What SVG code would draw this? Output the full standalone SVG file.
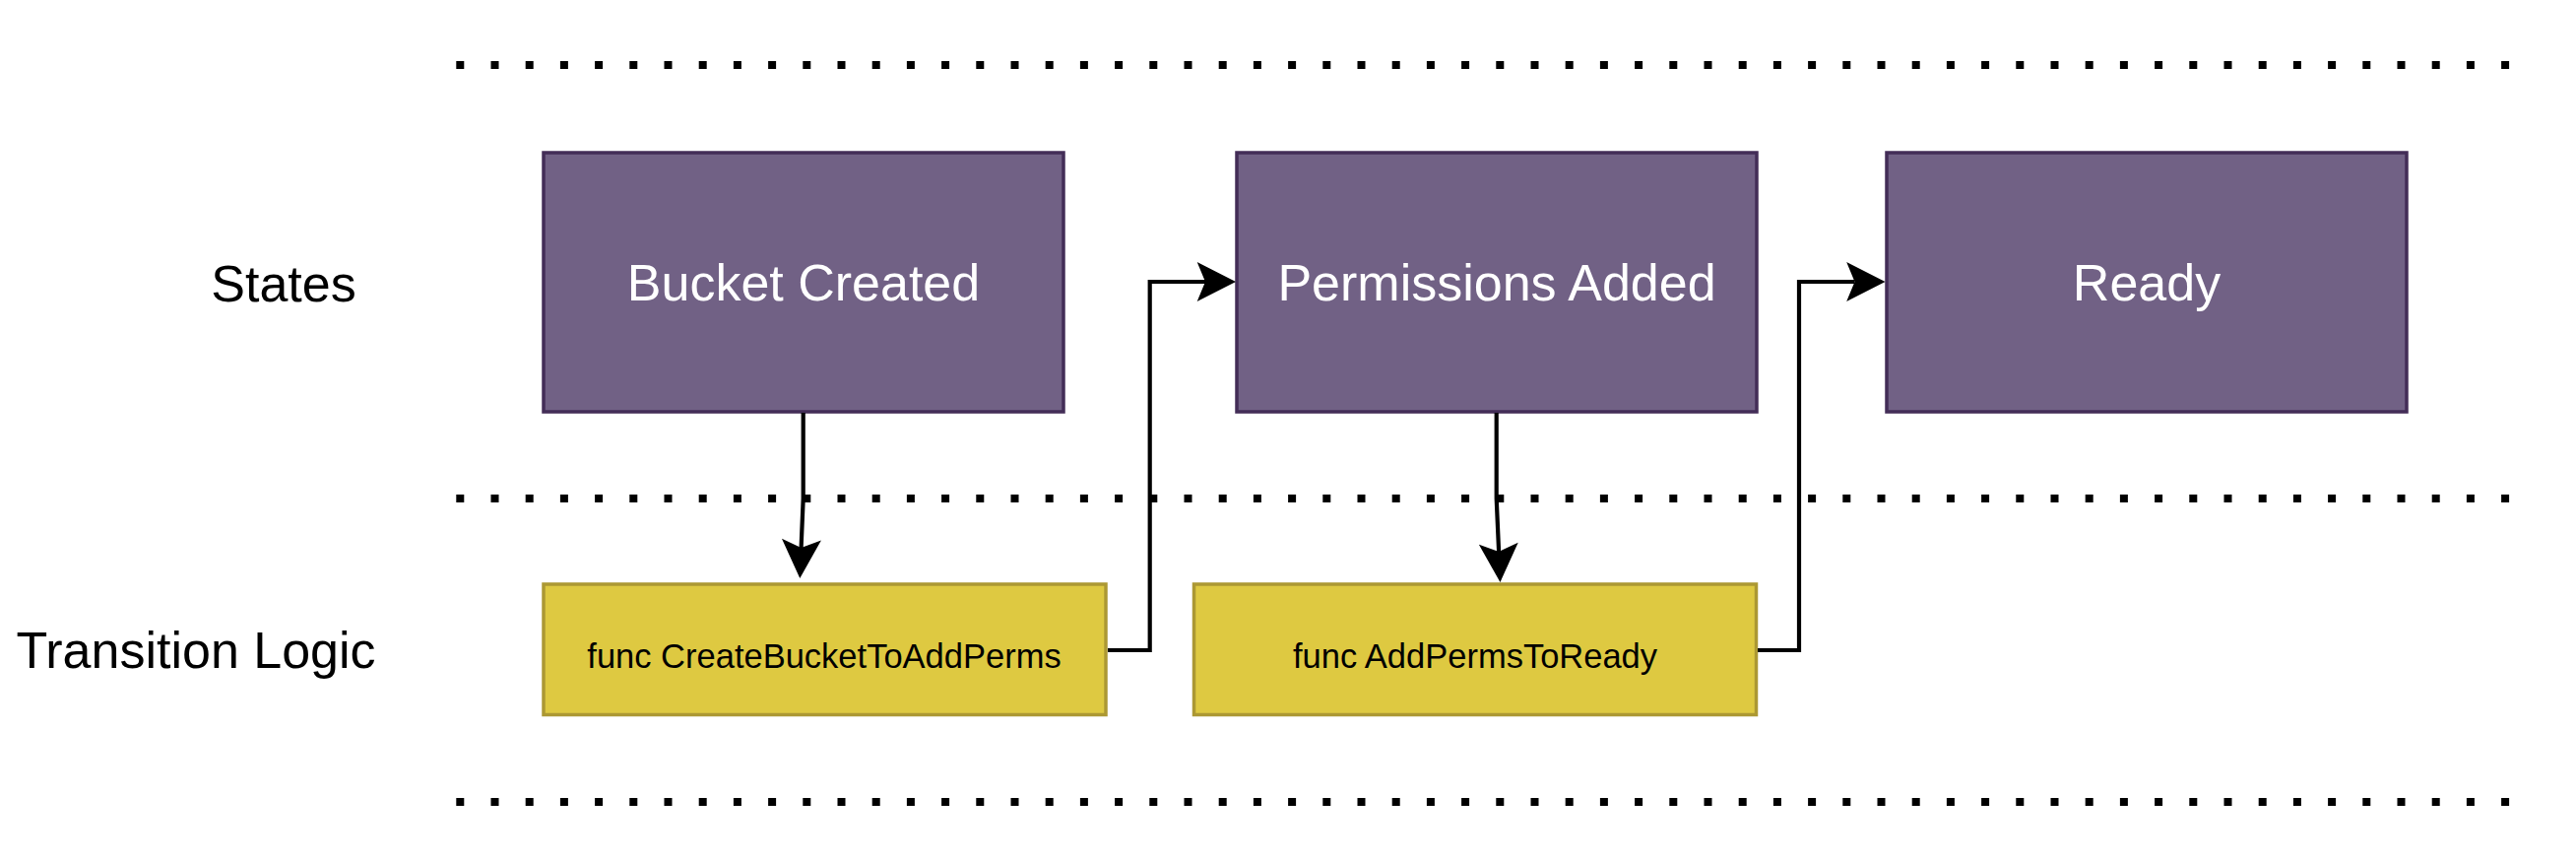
<svg xmlns="http://www.w3.org/2000/svg" width="2616" height="876" viewBox="0 0 2616 876">
<style>
.state{fill:#716185;stroke:#432D57;stroke-width:3.5}
.func{fill:#DEC941;stroke:#AC9833;stroke-width:3.5}
.st{font-family:"Liberation Sans",Arial,sans-serif;font-size:52px;fill:#ffffff;text-anchor:middle}
.ft{font-family:"Liberation Sans",Arial,sans-serif;font-size:34.5px;fill:#000000;text-anchor:middle}
.lbl{font-family:"Liberation Sans",Arial,sans-serif;font-size:52px;fill:#000000;text-anchor:middle}
.sep{stroke:#000;stroke-width:8;stroke-dasharray:8 27.2;fill:none}
.edge{fill:none;stroke:#000;stroke-width:4.2;stroke-linejoin:miter}
</style>
<defs>
<marker id="arr" markerUnits="userSpaceOnUse" viewBox="0 0 40 40" markerWidth="40" markerHeight="40" refX="9" refY="20" orient="auto">
<path d="M40,20 L0.7,0 L9,20 L0.7,40 Z" fill="#000"/>
</marker>
</defs>
<rect width="2616" height="876" fill="#ffffff"/>
<g id="separators">
<line class="sep" x1="463.3" y1="66" x2="2552" y2="66"/>
<line class="sep" x1="463.3" y1="506" x2="2552" y2="506"/>
<line class="sep" x1="463.3" y1="814" x2="2552" y2="814"/>
</g>
<g id="label-states"><text class="lbl" x="288" y="306">States</text></g>
<g id="label-transition"><text class="lbl" x="199" y="678">Transition Logic</text></g>
<g id="bucket-created">
<rect class="state" x="552" y="155" width="528" height="263"/>
<text class="st" x="816" y="305">Bucket Created</text>
</g>
<g id="permissions-added">
<rect class="state" x="1256" y="155" width="528" height="263"/>
<text class="st" x="1520" y="305">Permissions Added</text>
</g>
<g id="ready">
<rect class="state" x="1916" y="155" width="528" height="263"/>
<text class="st" x="2180" y="305">Ready</text>
</g>
<g id="func-create-bucket">
<rect class="func" x="552" y="593" width="571" height="132.5"/>
<text class="ft" x="837" y="678">func CreateBucketToAddPerms</text>
</g>
<g id="func-add-perms">
<rect class="func" x="1212.5" y="593" width="571" height="132.5"/>
<text class="ft" x="1498" y="678">func AddPermsToReady</text>
</g>
<g id="connectors">
<path class="edge" d="M815.7,419 L815.7,506 L813.6,556" marker-end="url(#arr)"/>
<path class="edge" d="M1125,660 L1167.7,660 L1167.7,286 L1224,286" marker-end="url(#arr)"/>
<path class="edge" d="M1519.7,419 L1519.7,506 L1522.1,560" marker-end="url(#arr)"/>
<path class="edge" d="M1785,660 L1827,660 L1827,286 L1883.5,286" marker-end="url(#arr)"/>
</g>
</svg>
